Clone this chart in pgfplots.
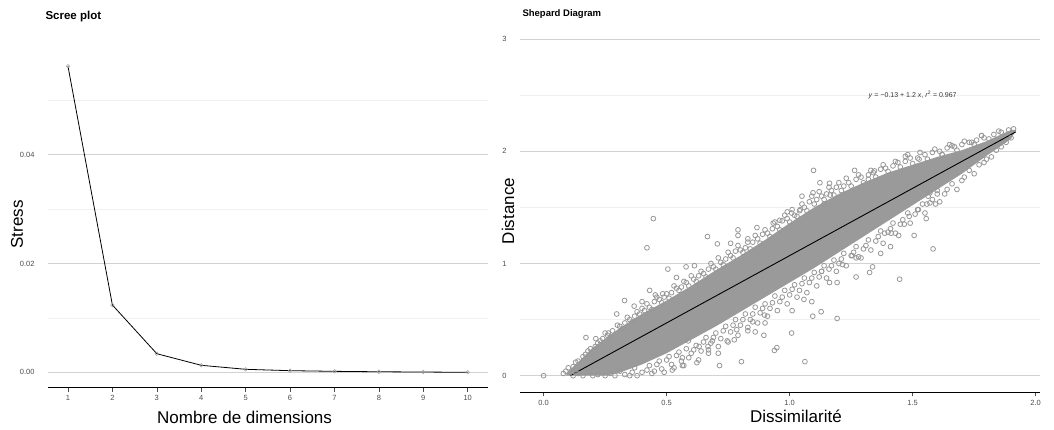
\documentclass[border=0pt]{standalone}
\usepackage{fontspec}
\setmainfont{Liberation Sans}
\usepackage{pgfplots}
\pgfplotsset{compat=1.18}
\definecolor{tickc}{HTML}{4D4D4D}
\definecolor{gridmaj}{HTML}{D2D2D2}
\definecolor{gridmin}{HTML}{F0F0F0}
\definecolor{ptfill}{HTML}{9A9A9A}
\definecolor{ptline}{HTML}{979797}
\pgfplotsset{gg/.style={
  scale only axis,
  axis x line*=bottom, axis y line*=left,
  y axis line style={draw=none},
  x axis line style={black, line width=0.9pt},
  ytick style={draw=none},
  xtick style={tickc, line width=0.6pt},
  tick align=outside, major tick length=4pt, minor tick length=0pt,
  ymajorgrids, yminorgrids,
  major grid style={gridmaj, line width=0.7pt},
  minor grid style={gridmin, line width=0.5pt},
  tick label style={font=\fontsize{7.5}{8}\selectfont, text=tickc},
  /pgf/number format/assume math mode=true,
  scaled y ticks=false, scaled x ticks=false,
  label style={font=\fontsize{17}{19}\selectfont, black},
  yticklabel style={xshift=-6pt},
}}
\pgfplotstableread{
x y
0.00 0.00
0.08 0.02
0.09 0.04
0.12 0.08
0.14 0.13
0.17 0.19
0.19 0.24
0.22 0.29
0.24 0.33
0.26 0.36
0.28 0.40
0.31 0.44
0.33 0.47
0.35 0.50
0.37 0.53
0.38 0.57
0.41 0.58
0.43 0.61
0.45 0.66
0.47 0.68
0.49 0.70
0.52 0.74
0.54 0.78
0.56 0.79
0.58 0.83
0.61 0.86
0.63 0.89
0.65 0.91
0.67 0.95
0.69 0.97
0.72 1.01
0.74 1.04
0.76 1.07
0.78 1.11
0.80 1.12
0.82 1.14
0.85 1.19
0.87 1.22
0.89 1.26
0.91 1.27
0.93 1.31
0.95 1.33
0.97 1.38
0.99 1.40
1.02 1.43
1.04 1.47
1.06 1.50
1.08 1.55
1.11 1.57
1.13 1.60
1.15 1.62
1.17 1.65
1.19 1.68
1.22 1.69
1.24 1.72
1.27 1.75
1.29 1.77
1.32 1.79
1.34 1.81
1.37 1.84
1.39 1.85
1.42 1.87
1.44 1.90
1.47 1.91
1.49 1.94
1.52 1.94
1.55 1.97
1.58 1.99
1.61 2.00
1.64 2.03
1.67 2.04
1.70 2.06
1.73 2.08
1.76 2.10
1.79 2.12
1.83 2.15
1.86 2.17
1.89 2.19
1.91 2.20
0.10 0.07
0.13 0.12
0.16 0.17
0.18 0.22
0.21 0.26
0.23 0.31
0.25 0.38
0.27 0.34
0.30 0.45
0.32 0.42
0.34 0.52
0.36 0.48
0.39 0.55
0.40 0.60
0.42 0.64
0.44 0.59
0.46 0.70
0.48 0.65
0.50 0.73
0.51 0.69
0.53 0.80
0.55 0.76
0.57 0.84
0.59 0.80
0.60 0.89
0.62 0.84
0.64 0.93
0.66 0.88
0.68 1.00
0.70 0.95
0.71 1.05
0.73 0.99
0.75 1.10
0.77 1.05
0.79 1.16
0.81 1.10
0.83 1.19
0.84 1.13
0.86 1.25
0.88 1.18
0.90 1.30
0.92 1.24
0.94 1.37
0.96 1.30
0.98 1.43
1.00 1.37
1.01 1.48
1.03 1.42
1.05 1.53
1.07 1.47
1.09 1.60
1.10 1.53
1.12 1.64
1.14 1.57
1.16 1.68
1.18 1.61
1.20 1.72
1.21 1.65
1.23 1.76
1.25 1.69
1.28 1.79
1.30 1.72
1.33 1.83
1.35 1.77
1.38 1.88
1.40 1.82
1.43 1.91
1.45 1.86
1.48 1.97
1.50 1.89
1.53 1.99
1.56 1.93
1.59 2.02
1.62 1.97
1.65 2.06
1.68 2.01
1.71 2.09
1.75 2.06
1.78 2.14
1.81 2.11
1.85 2.18
0.12 0.00
0.16 0.00
0.20 0.00
0.25 0.00
0.29 0.00
0.33 0.01
0.36 0.03
0.38 0.00
0.42 0.05
0.44 0.02
0.46 0.10
0.48 0.06
0.50 0.14
0.52 0.10
0.54 0.18
0.56 0.13
0.58 0.24
0.60 0.20
0.62 0.27
0.64 0.22
0.66 0.34
0.68 0.29
0.70 0.38
0.72 0.33
0.74 0.44
0.76 0.39
0.78 0.50
0.80 0.45
0.82 0.55
0.84 0.50
0.86 0.61
0.88 0.56
0.90 0.64
0.92 0.60
0.94 0.71
0.96 0.66
0.98 0.76
1.00 0.72
1.02 0.81
1.04 0.76
1.06 0.87
1.08 0.83
1.10 0.92
1.12 0.88
1.14 0.98
1.16 0.95
1.18 1.03
1.20 1.00
1.22 1.09
1.25 1.07
1.27 1.15
1.30 1.13
1.32 1.21
1.35 1.20
1.37 1.29
1.40 1.28
1.42 1.36
1.45 1.35
1.48 1.45
1.51 1.44
1.54 1.53
1.57 1.54
1.60 1.62
1.63 1.62
1.66 1.71
1.70 1.74
1.73 1.83
1.77 1.88
1.80 1.93
1.84 2.01
1.88 2.08
0.14 0.02
0.18 0.03
0.22 0.01
0.27 0.02
0.31 0.04
0.35 0.00
0.37 0.07
0.40 0.03
0.43 0.09
0.45 0.04
0.47 0.13
0.49 0.03
0.51 0.17
0.53 0.07
0.55 0.21
0.57 0.09
0.59 0.16
0.61 0.23
0.63 0.14
0.65 0.30
0.67 0.23
0.69 0.34
0.71 0.26
0.73 0.40
0.75 0.30
0.77 0.45
0.79 0.36
0.81 0.50
0.83 0.43
0.85 0.55
0.87 0.47
0.89 0.60
0.91 0.53
0.93 0.65
0.95 0.58
0.97 0.70
0.99 0.64
1.01 0.77
1.03 0.70
1.05 0.82
1.07 0.74
1.09 0.87
1.11 0.80
1.13 0.93
1.15 0.87
1.17 0.98
1.19 0.93
1.21 1.04
1.23 0.98
1.26 1.10
1.28 1.06
1.31 1.16
1.33 1.12
1.36 1.24
1.38 1.18
1.41 1.31
1.43 1.27
1.46 1.39
1.49 1.36
1.52 1.48
1.55 1.45
1.58 1.57
1.61 1.55
1.64 1.66
1.68 1.66
1.71 1.77
1.75 1.80
1.79 1.90
1.82 1.95
1.86 2.04
1.90 2.12
0.446 1.40
0.42 1.14
0.666 1.24
0.706 1.175
0.79 1.30
0.867 1.32
1.097 1.83
1.123 1.72
1.264 1.83
1.345 1.825
1.095 1.63
1.05 1.60
1.583 1.13
1.447 0.86
1.506 1.25
1.27 0.88
1.325 0.92
1.337 0.97
1.41 1.15
1.37 1.09
1.558 1.53
1.593 1.53
1.555 1.40
1.466 1.35
1.193 0.51
1.094 0.53
1.128 0.57
1.09 0.66
1.008 0.38
1.062 0.125
0.938 0.225
0.948 0.25
0.895 0.36
0.86 0.39
0.83 0.40
0.804 0.125
0.715 0.09
0.71 0.20
0.67 0.20
0.623 0.116
0.564 0.09
0.523 0.05
0.172 0.34
0.297 0.55
0.329 0.67
0.505 0.95
0.579 0.97
0.613 0.98
0.54 0.875
0.431 0.76
0.454 0.72
0.484 0.73
0.368 0.62
0.40 0.66
0.212 0.33
0.263 0.38
1.78 2.14
1.74 2.08
1.47 1.955
1.526 1.93
1.66 2.05
1.32 1.75
1.162 1.715
1.165 1.61
1.14 1.53
0.99 1.46
1.008 1.45
1.043 1.48
0.933 1.36
0.96 1.385
0.83 1.22
0.79 1.25
0.76 1.18
1.413 1.27
1.443 1.25
1.386 1.27
1.27 1.05
1.29 1.05
1.254 1.07
1.215 0.99
1.162 0.83
1.193 0.83
1.13 0.93
1.058 0.68
1.01 0.58
0.898 0.54
0.90 0.47
0.85 0.48
0.785 0.41
0.746 0.31
0.775 0.32
0.668 0.26
0.588 0.31
0.686 0.31
0.632 0.26
0.564 0.16
1.486 1.42
1.523 1.48
1.60 1.65
1.563 1.60
1.57 1.63
1.67 1.955
1.69 1.94
1.62 1.97
}\shepardpts
\begin{document}
\begin{tikzpicture}
\path[use as bounding box] (0,0) rectangle (1054pt,430pt);
% ---------------- Scree plot ----------------
\begin{axis}[gg,
  at={(48pt,42.4pt)}, anchor=south west,
  width=439.7pt, height=336.6pt,
  xmin=0.55, xmax=10.45, ymin=-0.00281, ymax=0.05906,
  xtick={1,2,3,4,5,6,7,8,9,10},
  ytick={0,0.02,0.04}, yticklabels={0.00,0.02,0.04},
  minor ytick={0.01,0.03,0.05},
  xlabel={Nombre de dimensions}, ylabel={Stress},
  xlabel style={at={(axis description cs:0.447,-0.090)}, anchor=center},
  ylabel style={at={(axis description cs:-0.0705,0.485)}, anchor=center, rotate=0},
]
\addplot[black, line width=0.8pt, mark=o, mark size=1.8pt,
  mark options={draw=gray!75, line width=0.5pt}] coordinates {
(1,0.05625) (2,0.01237) (3,0.00342) (4,0.00129) (5,0.00055)
(6,0.00030) (7,0.00018) (8,0.00010) (9,0.00005) (10,0.00000)};
\end{axis}
\node[anchor=west, font=\bfseries\fontsize{11.5}{13}\selectfont] at (42pt,413pt) {Scree plot};
% ---------------- Shepard diagram ----------------
\begin{axis}[gg,
  at={(520pt,37.5pt)}, anchor=south west,
  width=519.6pt, height=370.2pt,
  xmin=-0.096, xmax=2.016, ymin=-0.15, ymax=3.15,
  xtick={0,0.5,1,1.5,2}, xticklabels={0.0,0.5,1.0,1.5,2.0},
  ytick={0,1,2,3}, yticklabels={0,1,2,3},
  minor ytick={0.5,1.5,2.5},
  xlabel={Dissimilarité}, ylabel={Distance},
  xlabel style={at={(axis description cs:0.531,-0.065)}, anchor=center},
  ylabel style={at={(axis description cs:-0.023,0.49)}, anchor=center, rotate=0},
]
% dense core of the point cloud
\addplot[fill=ptfill, draw=none] coordinates {
(0.09,0.00) (0.10,0.04) (0.15,0.14) (0.20,0.25) (0.30,0.41) (0.40,0.55)
(0.50,0.67) (0.60,0.80) (0.70,0.94) (0.80,1.07) (0.90,1.21) (1.00,1.36)
(1.10,1.50) (1.20,1.62) (1.30,1.72) (1.40,1.81) (1.50,1.88) (1.60,1.95)
(1.70,2.01) (1.80,2.09) (1.90,2.19) (1.92,2.19)
(1.90,2.11) (1.80,1.96) (1.70,1.80) (1.60,1.66) (1.50,1.52) (1.40,1.38)
(1.30,1.24) (1.20,1.10) (1.10,0.96) (1.00,0.83) (0.90,0.70) (0.80,0.57)
(0.70,0.44) (0.60,0.32) (0.50,0.20) (0.40,0.10) (0.30,0.02) (0.25,0.00)
} -- cycle;
% individual points (fringe and outliers)
\addplot[only marks, mark=o, mark size=2.4pt,
  mark options={draw=ptline, line width=0.8pt}] table {\shepardpts};
% regression line
\addplot[black, line width=0.9pt] coordinates {(0.108,0.0) (1.92,2.174)};
\node[font=\fontsize{7}{8}\selectfont, text=black!80] at (axis cs:1.5,2.5)
  {\textit{y} = −0.13 + 1.2 \textit{x}, \textit{r}\textsuperscript{2} = 0.967};
\end{axis}
\node[anchor=west, font=\bfseries\fontsize{9.5}{11}\selectfont] at (519pt,416pt) {Shepard Diagram};
\end{tikzpicture}
\end{document}
